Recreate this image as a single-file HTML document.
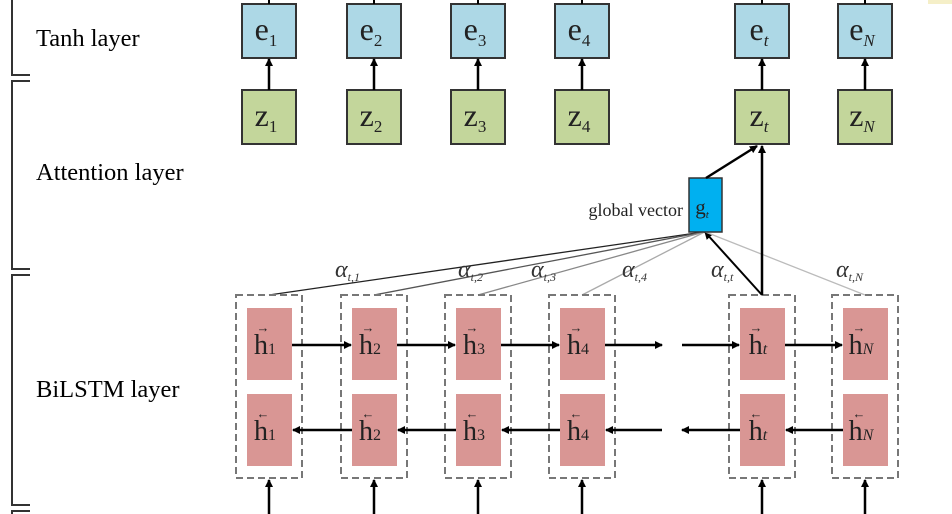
<!DOCTYPE html>
<html><head><meta charset="utf-8"><style>
html,body{margin:0;padding:0;background:#fff;}
svg{display:block;font-family:"Liberation Serif",serif;}
</style></head><body>
<svg id="d" width="952" height="514" viewBox="0 0 952 514">
<defs><marker id="ah" markerWidth="8" markerHeight="8" refX="7" refY="4" orient="auto" markerUnits="userSpaceOnUse"><path d="M0,0 L8,4 L0,8 Z" fill="#000"/></marker></defs>
<g stroke="#333" stroke-width="2" fill="none">
<path d="M12,0 V75 H30"/><path d="M30,81 H12 V269 H30"/><path d="M30,275 H12 V505 H30"/><path d="M30,511 H12 V514"/>
</g>
<text x="36" y="46" font-size="24.5">Tanh layer</text>
<text x="36" y="180" font-size="24.5">Attention layer</text>
<text x="36" y="397" font-size="24.5">BiLSTM layer</text>
<rect x="928" y="0" width="24" height="4" fill="#f5efc8"/>
<g id="g"></g>
</svg>
<script>
const cols=[269,374,478,582,762,865];
const subs=['1','2','3','4','t','N'];
const alphaX=[335,458,531,622,711,836];
const lineColors=['#222','#555','#888','#aaa','#000','#bbb'];
const NS='http://www.w3.org/2000/svg';
const G=document.getElementById('g');
function mk(t,a,p){const e=document.createElementNS(NS,t);for(const k in a)e.setAttribute(k,a[k]);(p||G).appendChild(e);return e;}
const gx=705,gyB=232,gyT=178;
cols.forEach((c,i)=>{
  const it=subs[i]==='t'||subs[i]==='N';
  const ln=mk('line',{x1:c,y1:295,x2:gx-2+i*0.5,y2:gyB,stroke:lineColors[i],'stroke-width':i===4?2:1.3});
  
  
  if(i===4)ln.setAttribute('marker-end','url(#ah)');
  const at=mk('text',{x:alphaX[i],y:277,'font-size':24,'font-style':'italic',fill:'#333'});
  
  
  at.innerHTML='α<tspan font-size="12" dy="4">t,'+subs[i]+'</tspan>';
  const e=mk('rect',{x:c-27,y:4,width:54,height:54,fill:'#add8e6',stroke:'#333','stroke-width':2});
  
  
  const et=mk('text',{x:c-3,y:40,'font-size':32,'text-anchor':'middle',fill:'#222'});
  
  
  et.innerHTML='e<tspan font-size="17" dy="6" '+(it?'font-style="italic"':'')+'>'+subs[i]+'</tspan>';
  mk('line',{x1:c,y1:0,x2:c,y2:4,stroke:'#000','stroke-width':2});
  const z=mk('rect',{x:c-27,y:90,width:54,height:54,fill:'#c3d69b',stroke:'#333','stroke-width':2});
  
  
  const zt=mk('text',{x:c-3,y:126,'font-size':32,'text-anchor':'middle',fill:'#222'});
  
  
  zt.innerHTML='z<tspan font-size="17" dy="6" '+(it?'font-style="italic"':'')+'>'+subs[i]+'</tspan>';
  const za=mk('line',{x1:c,y1:90,x2:c,y2:59,stroke:'#000','stroke-width':2.5,'marker-end':'url(#ah)'});
  
  
  const db=mk('rect',{x:c-33,y:295,width:66,height:183,fill:'none',stroke:'#777','stroke-width':2,'stroke-dasharray':'7,4'});
  
  
  [[308,'→'],[394,'←']].forEach(([y,dir],k)=>{
    const p=mk('rect',{x:c-22,y:y,width:45,height:72,fill:'#d99694'});
    
    
    const t=mk('text',{x:c-4,y:y+46,'font-size':28,'text-anchor':'middle',fill:'#222'});
    
    
    t.innerHTML='h<tspan font-size="16" '+(it?'font-style="italic"':'')+'>'+subs[i]+'</tspan>';
    mk('text',{x:c-6,y:y+24,'font-size':13,'text-anchor':'middle',fill:'#222'}).textContent=dir;
  });
  const ba=mk('line',{x1:c,y1:514,x2:c,y2:480,stroke:'#000','stroke-width':2.5,'marker-end':'url(#ah)'});
  
  
});
const gaps=[[0,1],[1,2],[2,3],[4,5]];
gaps.forEach(([a,b])=>{
  const f=mk('line',{x1:cols[a]+23,y1:345,x2:cols[b]-23,y2:345,stroke:'#000','stroke-width':2.5,'marker-end':'url(#ah)'});
  
  
  const r=mk('line',{x1:cols[b]-22,y1:430,x2:cols[a]+24,y2:430,stroke:'#000','stroke-width':2.5,'marker-end':'url(#ah)'});
  
  
});
mk('line',{x1:cols[3]+23,y1:345,x2:662,y2:345,stroke:'#000','stroke-width':2.5,'marker-end':'url(#ah)'});
mk('line',{x1:682,y1:345,x2:cols[4]-23,y2:345,stroke:'#000','stroke-width':2.5,'marker-end':'url(#ah)'});
mk('line',{x1:662,y1:430,x2:cols[3]+24,y2:430,stroke:'#000','stroke-width':2.5,'marker-end':'url(#ah)'});
mk('line',{x1:cols[4]-22,y1:430,x2:682,y2:430,stroke:'#000','stroke-width':2.5,'marker-end':'url(#ah)'});
const gb=mk('rect',{x:689,y:178,width:33,height:54,fill:'#00b0f0',stroke:'#333','stroke-width':1.5});


const gt=mk('text',{x:702,y:214,'font-size':21,'text-anchor':'middle',fill:'#222'});


gt.innerHTML='g<tspan font-size="11" font-style="italic" dy="4">t</tspan>';
const gl=mk('text',{x:683,y:216,'font-size':18,'text-anchor':'end',fill:'#222'});


gl.textContent='global vector';
const g1=mk('line',{x1:706,y1:178,x2:757,y2:146,stroke:'#000','stroke-width':2.5,'marker-end':'url(#ah)'});


const g2=mk('line',{x1:762,y1:295,x2:762,y2:146,stroke:'#000','stroke-width':2.5,'marker-end':'url(#ah)'});


</script>
</body></html>
